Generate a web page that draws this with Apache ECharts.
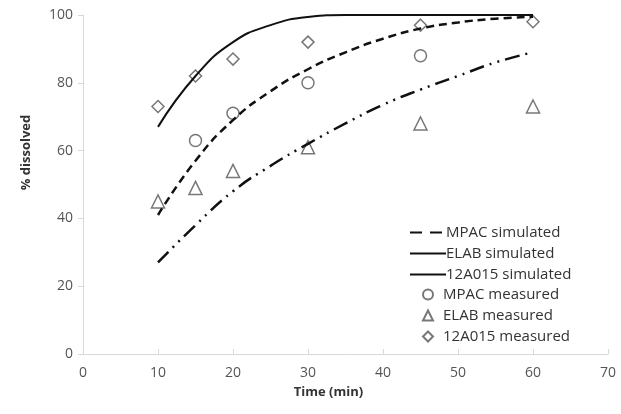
<!DOCTYPE html>
<html>
<head>
<meta charset="utf-8">
<script src="https://cdn.jsdelivr.net/npm/echarts@6/dist/echarts.min.js"></script>
<style>
  html, body { margin: 0; padding: 0; background: #fff; }
  #chart { width: 621px; height: 414px; }
</style>
</head>
<body>
<div id="chart"></div>
<script>
// simulated curves, time in min
const simTimes = [10, 15, 20, 25, 30, 35, 40, 45, 50, 55, 60]
const mpacSim = [41, 57, 69, 77.5, 84, 89, 93, 96, 97.8, 98.9, 99.5]
const elabSim = [27, 38, 48, 55.5, 62, 68, 73.5, 78, 82, 86, 89]
const a015Sim = [67, 82, 92, 97, 99.4, 100, 100, 100, 100, 100, 100]

// measured points
const mpacTimes = [15, 20, 30, 45]
const mpacMeas = [63, 71, 80, 88]
const elabTimes = [10, 15, 20, 30, 45, 60]
const elabMeas = [45, 49, 54, 61, 68, 73]
const a015Times = [10, 15, 20, 30, 45, 60]
const a015Meas = [73, 82, 87, 92, 97, 98]

const pair = (xs, ys) => xs.map((x, i) => [x, ys[i]])

const font = "'Open Sans', 'Liberation Sans', sans-serif"
const markerStyle = { color: "#fff", borderColor: "#555", borderWidth: 1.5 }
const hideSym = { opacity: 0 }
const legendText = { fontSize: 15, color: "#333", fontFamily: font }

const chart = echarts.init(document.getElementById("chart"), null, { renderer: "canvas" })

chart.setOption({
  animation: false,
  backgroundColor: "#fff",
  textStyle: { fontFamily: font },
  grid: { left: 83, right: 13, top: 15, bottom: 60 },
  legend: [
    {
      // simulated lines
      orient: "vertical",
      left: 404,
      top: 220,
      itemGap: 6,
      itemWidth: 36,
      itemHeight: 11,
      textStyle: { ...legendText, padding: [0, 0, 0, -5] },
      data: [
        { name: "MPAC simulated", itemStyle: hideSym, lineStyle: { type: [12, 8] } },
        { name: "ELAB simulated", itemStyle: hideSym, lineStyle: { type: "solid" } },
        { name: "12A015 simulated", itemStyle: hideSym },
      ],
    },
    {
      // measured markers
      orient: "vertical",
      left: 417,
      top: 282,
      itemGap: 6,
      itemWidth: 10,
      itemHeight: 10,
      textStyle: { ...legendText, padding: [0, 0, 0, 5] },
      data: ["MPAC measured", "ELAB measured", "12A015 measured"],
    },
  ],
  xAxis: {
    type: "value",
    min: 0,
    max: 70,
    interval: 10,
    name: "Time (min)",
    nameLocation: "middle",
    nameGap: 32,
    nameTextStyle: { fontWeight: "bold", fontSize: 13, color: "#333", padding: [0, 34, 0, 0] },
    axisLine: { lineStyle: { color: "#d9d9d9", width: 1 } },
    axisTick: { inside: true, length: 5, lineStyle: { color: "#d9d9d9" } },
    axisLabel: { fontSize: 14, color: "#555", margin: 12 },
    splitLine: { show: false },
  },
  yAxis: {
    type: "value",
    min: 0,
    max: 100,
    interval: 20,
    name: "% dissolved",
    nameLocation: "middle",
    nameGap: 50,
    nameTextStyle: { fontWeight: "bold", fontSize: 13, color: "#333", padding: [0, 0, 0, 64] },
    axisLine: { show: true, lineStyle: { color: "#d9d9d9", width: 1 } },
    axisTick: { show: true, length: 5, lineStyle: { color: "#d9d9d9" } },
    axisLabel: { fontSize: 14, color: "#555", margin: 10 },
    splitLine: { show: false },
  },
  series: [
    {
      name: "MPAC simulated",
      type: "line",
      smooth: true,
      showSymbol: false,
      symbol: "none",
      data: pair(simTimes, mpacSim),
      lineStyle: { color: "#111", width: 2.5, type: [8, 5] },
      itemStyle: { color: "#111" },
    },
    {
      name: "ELAB simulated",
      type: "line",
      smooth: true,
      showSymbol: false,
      symbol: "none",
      data: pair(simTimes, elabSim),
      lineStyle: { color: "#111", width: 2.5, type: [15, 6, 2, 6, 2, 6] },
      itemStyle: { color: "#111" },
    },
    {
      name: "12A015 simulated",
      type: "line",
      smooth: true,
      showSymbol: false,
      symbol: "none",
      data: pair(simTimes, a015Sim),
      lineStyle: { color: "#111", width: 2 },
      itemStyle: { color: "#111" },
    },
    {
      name: "MPAC measured",
      type: "scatter",
      symbol: "circle",
      symbolSize: 12,
      data: pair(mpacTimes, mpacMeas),
      itemStyle: markerStyle,
    },
    {
      name: "ELAB measured",
      type: "scatter",
      symbol: "triangle",
      symbolSize: 13,
      data: pair(elabTimes, elabMeas),
      itemStyle: markerStyle,
    },
    {
      name: "12A015 measured",
      type: "scatter",
      symbol: "diamond",
      symbolSize: 12,
      data: pair(a015Times, a015Meas),
      itemStyle: markerStyle,
    },
  ],
})
</script>
</body>
</html>
